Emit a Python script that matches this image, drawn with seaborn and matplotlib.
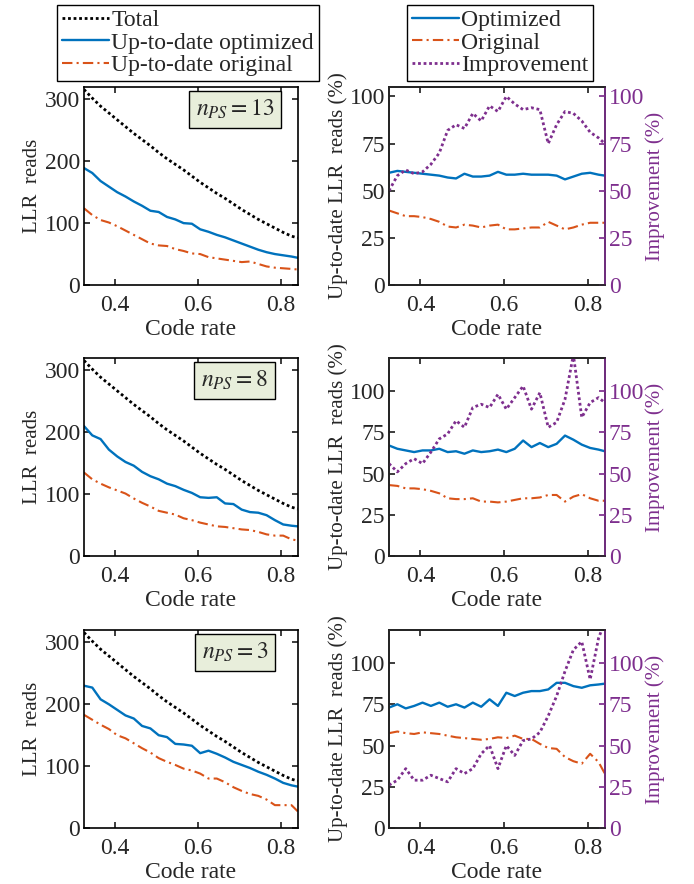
import matplotlib
matplotlib.use("Agg")
import matplotlib.pyplot as plt
import seaborn as sns
from matplotlib.lines import Line2D

# code rates (x axis), shared by all panels
code_rate = [0.325, 0.345, 0.365, 0.385, 0.405, 0.425, 0.445, 0.465, 0.485,
             0.505, 0.525, 0.545, 0.565, 0.585, 0.605, 0.625, 0.645, 0.665,
             0.685, 0.705, 0.725, 0.745, 0.765, 0.785, 0.805, 0.825, 0.84]

# total LLR reads (same for every n_PS)
total_reads = [316, 302, 289, 278, 267, 256, 245, 235, 225, 214, 204, 195, 186, 176,
               166, 157, 148, 140, 131, 122, 114, 106, 99, 92, 85, 79, 76]

n_ps_values = [13, 8, 3]

# up-to-date LLR reads (absolute)
opt_reads_13 = [189, 181, 168, 159, 150, 143, 135, 128, 120, 118, 110, 106, 100, 99,
                90, 86, 81, 77, 72, 67, 62, 57, 53, 50, 48, 46, 44]
orig_reads_13 = [124, 113, 105, 101, 95, 88, 81, 74, 67, 64, 63, 58, 55, 51,
                 50, 45, 43, 41, 39, 37, 38, 34, 30, 28, 27, 26, 25]
opt_reads_8 = [210, 195, 189, 172, 161, 152, 146, 136, 129, 124, 117, 113, 107, 102,
               95, 94, 95, 85, 84, 75, 71, 70, 66, 58, 51, 49, 48]
orig_reads_8 = [135, 124, 117, 111, 106, 101, 93, 86, 80, 73, 70, 67, 61, 58,
                54, 51, 48, 47, 45, 43, 42, 39, 35, 33, 33, 27, 25]
opt_reads_3 = [230, 227, 208, 200, 191, 182, 177, 165, 161, 150, 147, 136, 135, 133,
               121, 125, 120, 114, 107, 102, 97, 91, 86, 80, 73, 69, 67]
orig_reads_3 = [183, 175, 167, 160, 150, 145, 137, 129, 122, 113, 107, 102, 96, 93,
                88, 80, 80, 74, 66, 60, 55, 52, 46, 37, 37, 37, 27]

# up-to-date LLR reads (% of total) and improvement (%)
opt_pct_13 = [59.5, 60.5, 60, 59.5, 59, 58.5, 58, 57, 56.5, 59, 57.5, 57.5, 58, 60,
              58.5, 58.5, 59, 58.5, 58.5, 58.5, 58, 56, 57.5, 59, 59.5, 58.5, 58]
orig_pct_13 = [39.5, 38, 36.5, 36.5, 36, 35, 33.5, 31, 30.5, 32, 31.5, 30.5, 31.5, 32,
               29.5, 29.5, 30, 30.5, 30.5, 33.5, 31.5, 29.5, 30.5, 32, 33, 33, 33]
impr_pct_13 = [50, 58, 61, 59, 60, 64, 70, 82, 85, 83, 91, 87, 95, 92,
               100, 96, 93, 94, 93, 75, 85, 92, 91, 87, 81, 78, 75]
opt_pct_8 = [67, 65, 64, 63, 64, 64, 65, 63, 63.5, 62, 64, 63, 63.5, 64.5,
             63, 65, 70, 66, 68.5, 66, 68, 73, 70.5, 67.5, 65.5, 64.5, 63.5]
orig_pct_8 = [43, 42.5, 41, 41, 40.5, 39.5, 38, 35, 34.5, 34.5, 35, 33, 33, 32.5,
              33, 34, 35, 35, 35.5, 37, 37, 33, 36, 37.5, 35, 33.5, 33.5]
impr_pct_8 = [56, 51, 56, 59, 56, 63, 71, 74, 82, 78, 90, 92, 90, 98,
              89, 96, 103, 89, 99, 78, 81, 95, 122, 84, 93, 96, 93]
opt_pct_3 = [73, 75, 72.5, 74, 76, 74, 76, 73.5, 75, 73, 76, 73.5, 78, 74,
             82, 80, 82, 83, 83, 84, 88, 88, 86, 85, 86.5, 87, 87.5]
orig_pct_3 = [57.5, 58.5, 57.5, 57, 58, 57.5, 57, 56, 55, 54.5, 54, 53.5, 54, 55,
              54.5, 56, 54, 54, 51, 48.5, 48, 43, 40.5, 39, 45, 40, 33]
impr_pct_3 = [26, 29, 36, 29, 29, 32, 30, 28, 36, 33, 36, 45, 50, 36,
              50, 44, 53, 54, 58, 68, 80, 95, 108, 113, 90, 115, 125]

BLUE = "#0072BD"
ORANGE = "#D95319"
PURPLE = "#7E2F8E"
DOT = (0, (1, 1))
DASHDOT = (0, (5, 2, 1, 2))
FS = 17      # ticks, x labels, legends
FS_Y = 15    # y labels

sns.set_theme(style="ticks")
plt.rcParams["font.family"] = ["Liberation Serif", "DejaVu Serif"]
plt.rcParams["mathtext.fontset"] = "stix"
plt.rcParams["font.size"] = FS
plt.rcParams["axes.linewidth"] = 1.2

fig = plt.figure(figsize=(6.94, 8.84), dpi=100)

rows = [
    (opt_reads_13, orig_reads_13, opt_pct_13, orig_pct_13, impr_pct_13, 105),
    (opt_reads_8, orig_reads_8, opt_pct_8, orig_pct_8, impr_pct_8, 120),
    (opt_reads_3, orig_reads_3, opt_pct_3, orig_pct_3, impr_pct_3, 120),
]
bottoms = [0.6776, 0.371, 0.0633]
H = 0.224


def style_axes(a):
    for s in a.spines.values():
        s.set_visible(True)
        s.set_color("black")
    a.tick_params(axis="x", pad=7)
    a.set_xlabel("Code rate", fontsize=FS, labelpad=2)


for i, (opt_r, orig_r, opt_p, orig_p, impr_p, ytop) in enumerate(rows):
    # --- left: absolute reads ---
    ax = fig.add_axes([0.121, bottoms[i], 0.308, H])
    sns.lineplot(x=code_rate, y=total_reads, ax=ax, color="black", linestyle=DOT, lw=2)
    sns.lineplot(x=code_rate, y=opt_r, ax=ax, color=BLUE, lw=1.7)
    sns.lineplot(x=code_rate, y=orig_r, ax=ax, color=ORANGE, linestyle=DASHDOT, lw=1.5)
    ax.set_xlim(code_rate[0], code_rate[-1])
    ax.set_ylim(0, 320)
    ax.set_xticks([0.4, 0.6, 0.8])
    ax.set_yticks([0, 100, 200, 300])
    ax.tick_params(direction="in", top=True, right=True, labelsize=FS, length=4, pad=3)
    style_axes(ax)
    ax.set_ylabel("LLR  reads", fontsize=FS_Y, labelpad=2)
    ax.text(0.706, 0.886, r"$n_{PS} = %d$" % n_ps_values[i], transform=ax.transAxes,
            ha="center", va="center", fontsize=FS,
            bbox=dict(boxstyle="square,pad=0.3", facecolor="#e8eedb", edgecolor="black", lw=1))

    # --- right: percentages with improvement on twin axis ---
    axr = fig.add_axes([0.5605, bottoms[i], 0.311, H])
    sns.lineplot(x=code_rate, y=opt_p, ax=axr, color=BLUE, lw=1.7)
    sns.lineplot(x=code_rate, y=orig_p, ax=axr, color=ORANGE, linestyle=DASHDOT, lw=1.5)
    axr.set_xlim(code_rate[0], code_rate[-1])
    axr.set_ylim(0, ytop)
    axr.set_xticks([0.4, 0.6, 0.8])
    axr.set_yticks([0, 25, 50, 75, 100])
    axr.tick_params(direction="in", top=True, right=False, labelsize=FS, length=4, pad=3)
    style_axes(axr)
    axr.set_ylabel("Up-to-date LLR  reads (%)", fontsize=FS_Y, labelpad=1)

    ax2 = axr.twinx()
    sns.lineplot(x=code_rate, y=impr_p, ax=ax2, color=PURPLE, linestyle=DOT, lw=2)
    ax2.set_ylim(0, ytop)
    ax2.set_yticks([0, 25, 50, 75, 100])
    ax2.tick_params(axis="y", direction="in", colors=PURPLE, labelsize=FS, length=4, pad=3)
    ax2.spines["right"].set_color(PURPLE)
    ax2.spines["right"].set_linewidth(1.2)
    ax2.set_ylabel("Improvement (%)", fontsize=FS_Y, color=PURPLE, labelpad=1)

# legends above the top row
left_handles = [
    Line2D([], [], color="black", linestyle=DOT, lw=2),
    Line2D([], [], color=BLUE, lw=1.7),
    Line2D([], [], color=ORANGE, linestyle=DASHDOT, lw=1.5),
]
leg1 = fig.legend(left_handles, ["Total", "Up-to-date optimized", "Up-to-date original"],
                  loc="upper left", bbox_to_anchor=(57 / 694, 1 - 5 / 884), fontsize=FS,
                  frameon=True, fancybox=False, framealpha=1, edgecolor="black",
                  handlelength=2.0, handletextpad=0.1, labelspacing=0.04,
                  borderpad=0.2, borderaxespad=0)
leg1.get_frame().set_linewidth(1.0)

right_handles = [
    Line2D([], [], color=BLUE, lw=1.7),
    Line2D([], [], color=ORANGE, linestyle=DASHDOT, lw=1.5),
    Line2D([], [], color=PURPLE, linestyle=DOT, lw=2),
]
leg2 = fig.legend(right_handles, ["Optimized", "Original", "Improvement"],
                  loc="upper left", bbox_to_anchor=(407 / 694, 1 - 5 / 884), fontsize=FS,
                  frameon=True, fancybox=False, framealpha=1, edgecolor="black",
                  handlelength=2.0, handletextpad=0.1, labelspacing=0.04,
                  borderpad=0.2, borderaxespad=0)
leg2.get_frame().set_linewidth(1.0)

fig.savefig("out.png", dpi=100)
